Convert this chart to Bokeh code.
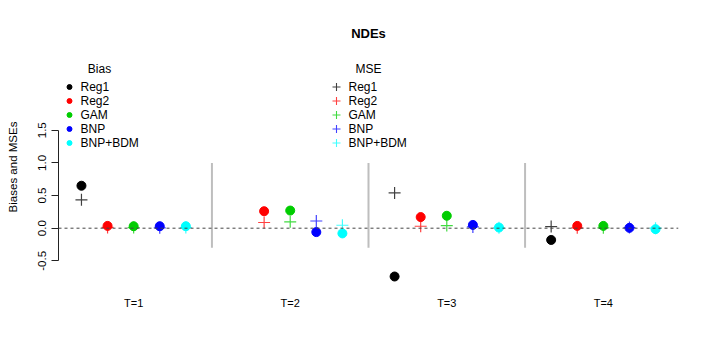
import numpy as np
from bokeh.plotting import figure
from bokeh.models import Range1d, FixedTicker, NumeralTickFormatter, Label, Span
from bokeh.embed import file_html
from bokeh.resources import INLINE

# ---- data ----
methods = ["Reg1", "Reg2", "GAM", "BNP", "BNP+BDM"]
colors = ["black", "red", "#00CD00", "blue", "cyan"]
times = ["T=1", "T=2", "T=3", "T=4"]

bias_reg1 = [0.65, np.nan, -0.74, -0.18]
bias_reg2 = [0.035, 0.26, 0.17, 0.035]
bias_gam = [0.03, 0.27, 0.19, 0.035]
bias_bnp = [0.03, -0.06, 0.05, 0.005]
bias_bnpbdm = [0.03, -0.08, 0.01, -0.015]

mse_reg1 = [0.435, np.nan, 0.54, 0.025]
mse_reg2 = [0.012, 0.087, 0.03, 0.005]
mse_gam = [0.01, 0.097, 0.04, 0.005]
mse_bnp = [0.005, 0.11, 0.02, 0.01]
mse_bnpbdm = [0.01, 0.045, 0.005, 0.0]

y_ticks = [-0.5, 0.0, 0.5, 1.0, 1.5]

bias = [bias_reg1, bias_reg2, bias_gam, bias_bnp, bias_bnpbdm]
mse = [mse_reg1, mse_reg2, mse_gam, mse_bnp, mse_bnpbdm]

# ---- layout ----
W, H = 700, 350
FL, FR, FT, FB = 58, 678, 50, 283
X0, X1 = 0.12, 23.88
Y0, Y1 = -0.847, 2.721
FONT = "Liberation Sans"

def px_x(px):
    return X0 + (px - FL) / (FR - FL) * (X1 - X0)

def px_y(py):
    return Y1 - (py - FT) / (FB - FT) * (Y1 - Y0)

p = figure(width=W, height=H, output_backend="svg", toolbar_location=None,
           x_range=Range1d(X0, X1), y_range=Range1d(Y0, Y1),
           min_border_left=FL, min_border_right=W - FR,
           min_border_top=FT, min_border_bottom=H - FB,
           title="NDEs")
p.outline_line_color = None
p.xgrid.visible = False
p.ygrid.visible = False
p.background_fill_color = "white"

p.title.align = "center"
p.title.text_font = FONT
p.title.text_font_size = "13px"
p.title.text_font_style = "bold"
p.title.text_color = "black"
p.title.standoff = 20

# y axis
p.yaxis.bounds = (y_ticks[0], y_ticks[-1])
p.yaxis.ticker = FixedTicker(ticks=y_ticks)
p.yaxis.formatter = NumeralTickFormatter(format="0.0")
p.yaxis.minor_tick_line_color = None
p.yaxis.major_tick_out = 7
p.yaxis.major_tick_in = 0
p.yaxis.major_label_orientation = "vertical"
p.yaxis.major_label_standoff = 5
p.yaxis.major_label_text_font = FONT
p.yaxis.major_label_text_font_size = "11.5px"
p.yaxis.major_label_text_color = "black"
p.yaxis.axis_line_color = "#222222"
p.yaxis.major_tick_line_color = "#222222"
p.yaxis.axis_label = "Biases and MSEs"
p.yaxis.axis_label_text_font = FONT
p.yaxis.axis_label_text_font_style = "normal"
p.yaxis.axis_label_text_font_size = "11.5px"
p.yaxis.axis_label_text_color = "black"
p.yaxis.axis_label_standoff = 17

# x axis: group labels only
n_m = len(methods)
group_centers = [1 + (n_m + 1) * g + (n_m - 1) // 2 for g in range(len(times))]
p.xaxis.ticker = FixedTicker(ticks=group_centers)
p.xaxis.major_label_overrides = {c: t for c, t in zip(group_centers, times)}
p.xaxis.axis_line_color = None
p.xaxis.major_tick_line_color = None
p.xaxis.minor_tick_line_color = None
p.xaxis.major_tick_out = 0
p.xaxis.major_tick_in = 0
p.xaxis.major_label_standoff = 13
p.xaxis.major_label_text_font = FONT
p.xaxis.major_label_text_font_size = "11px"
p.xaxis.major_label_text_color = "black"

# zero line
p.add_layout(Span(location=0, dimension="width", line_color="#444444",
                  line_dash="3 3", line_width=1))

# separators
seps = [(n_m + 1) * (g + 1) for g in range(len(times) - 1)]
p.segment(x0=seps, x1=seps, y0=[-0.3] * len(seps), y1=[1.0] * len(seps),
          line_color="#BEBEBE", line_width=2)

# points
for m in range(n_m):
    xs = [1 + (n_m + 1) * g + m for g in range(len(times))]
    p.scatter(xs, bias[m], marker="circle", size=9, fill_color=colors[m],
              line_color=colors[m])
for m in range(n_m):
    xs = [1 + (n_m + 1) * g + m for g in range(len(times))]
    p.scatter(xs, mse[m], marker="cross", size=12, line_color=colors[m],
              line_width=1.2, line_alpha=0.75)

# legends
row_y = [px_y(86.5 + 14 * i) for i in range(n_m)]

p.scatter([px_x(69)] * n_m, row_y, marker="circle", size=5,
          fill_color=colors, line_color=colors)
p.text([px_x(80)] * n_m, row_y, text=methods, text_font_size="12px",
       text_baseline="middle", text_align="left", text_color="black",
       text_font={"value": FONT})
p.add_layout(Label(x=px_x(99), y=px_y(68), text="Bias", text_align="center",
                   text_baseline="middle", text_font=FONT,
                   text_font_size="12px", text_color="black"))

p.scatter([px_x(336)] * n_m, row_y, marker="cross", size=8,
          line_color=colors, line_width=1.1, line_alpha=0.75)
p.text([px_x(348)] * n_m, row_y, text=methods, text_font_size="12px",
       text_baseline="middle", text_align="left", text_color="black",
       text_font={"value": FONT})
p.add_layout(Label(x=px_x(368), y=px_y(68), text="MSE", text_align="center",
                   text_baseline="middle", text_font=FONT,
                   text_font_size="12px", text_color="black"))

open("out.html", "w").write(file_html(p, INLINE))
